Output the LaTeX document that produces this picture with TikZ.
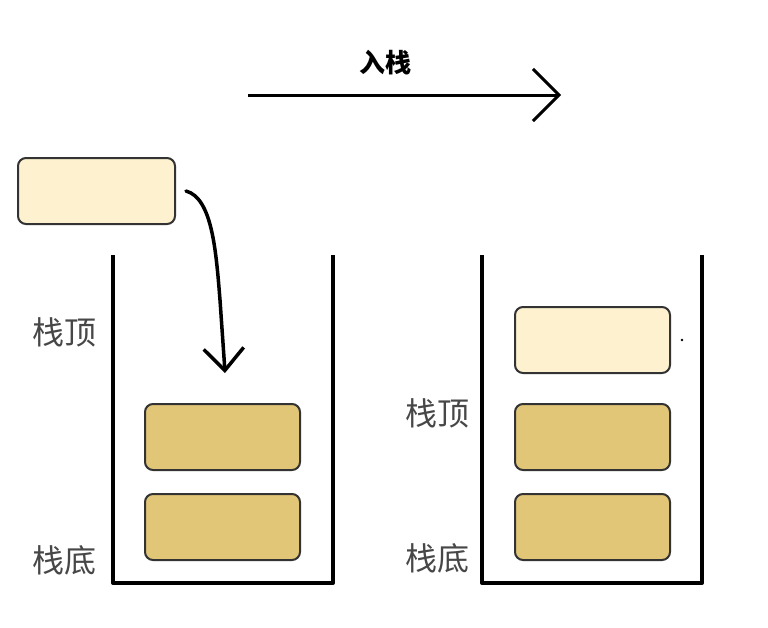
\documentclass[tikz,border=0pt]{standalone}
\usepackage{fontspec}
\newfontfamily\cjk{Noto Sans CJK SC}
\usetikzlibrary{positioning,arrows.meta}
\definecolor{newfill}{HTML}{FDF1CF}
\definecolor{oldfill}{HTML}{E2C677}
\definecolor{boxline}{HTML}{333333}
\definecolor{labelgray}{HTML}{474747}

\begin{document}
\begin{tikzpicture}[x=1pt,y=-1pt,
  elem/.style={draw=boxline,line width=2pt,rounded corners=8pt,minimum width=155pt,minimum height=66pt,inner sep=0pt},
  wall/.style={line width=4pt,line join=round},
  tag/.style={font=\cjk\fontsize{32}{34}\selectfont,text=labelgray,inner sep=0pt}]
\useasboundingbox (0,0) rectangle (768,627);

% push direction
\coordinate (pushL) at (248,95);
\coordinate (pushR) at (561,95);
\draw[line width=3pt,-{Straight Barb[length=26pt,width=52pt]}] (pushL) -- (pushR);
\node[font=\cjk\bfseries\fontsize{26}{28}\selectfont] (pushlbl) at (385,63) {入栈};

% element waiting to be pushed
\node[elem,fill=newfill,minimum width=157pt] (newin) at (96.5,191) {};
\coordinate (dropend) at (225,373);
\draw[line width=3.5pt,line cap=round,-{Straight Barb[length=22pt,width=40pt]}]
  ([xshift=10pt]newin.east) .. controls (212,198) and (216,250) .. (220,300)
  .. controls (223,335) .. (dropend);

% stack before push
\draw[wall] (113,255) -- (113,583) -- (333,583) -- (333,255);
\node[elem,fill=oldfill] (lmid) at (222.5,437) {};
\node[elem,fill=oldfill] (lbot) at (222.5,527) {};
\node[tag] (ltop) at (64,332) {栈顶};
\node[tag] (lbase) at (64,560) {栈底};

% stack after push
\draw[wall] (482,255) -- (482,583) -- (702,583) -- (702,255);
\node[elem,fill=newfill] (rtop) at (592.5,340) {};
\node[elem,fill=oldfill] (rmid) at (592.5,437) {};
\node[elem,fill=oldfill] (rbot) at (592.5,527) {};
\node[tag] (rtoplbl) at (437,413) {栈顶};
\node[tag] (rbase) at (437,558) {栈底};
\fill (682,340) circle (1.3pt);
\end{tikzpicture}
\end{document}
